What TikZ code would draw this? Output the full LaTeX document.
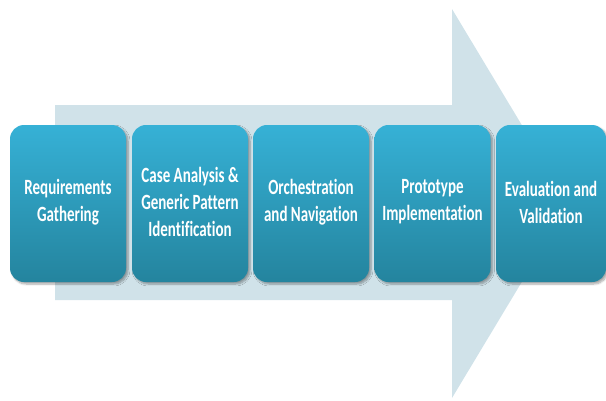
\documentclass[tikz,border=0pt]{standalone}
\usepackage{fontspec}
\setmainfont{Carlito}[Ligatures={NoCommon}]
\usetikzlibrary{shadows.blur}
\definecolor{arrowbg}{RGB}{208,226,233}
\definecolor{boxtop}{RGB}{54,177,214}
\definecolor{boxbot}{RGB}{36,132,158}
\tikzset{
  stepbox/.style={rounded corners=14pt, top color=boxtop, bottom color=boxbot, draw=none,
    minimum width=116pt, minimum height=157pt, inner sep=0pt,
    blur shadow={shadow xshift=2pt, shadow yshift=-2pt, shadow blur steps=6, shadow opacity=35}},
  steplabel/.style={text=white, font=\bfseries\fontsize{15}{18.6}\selectfont, align=center,
    inner sep=0pt, yscale=1.45, transform shape}
}
\begin{document}
\begin{tikzpicture}[x=1pt, y=-1pt]
\useasboundingbox (0,0) rectangle (606,400);
\fill[arrowbg] (55,105) -- (452,105) -- (452,9) -- (569,203.5) -- (452,398) -- (452,300) -- (55,300) -- cycle;
\node[stepbox] (b1) at (68,203.5) {};
\node[stepbox] (b2) at (190,203.5) {};
\node[stepbox] (b3) at (311,203.5) {};
\node[stepbox] (b4) at (432.5,203.5) {};
\node[stepbox, minimum width=110pt] (b5) at (551,203.5) {};
\node[steplabel] (t1) at ([yshift=1.5pt]b1.center) {Requirements\\Gathering};
\node[steplabel] (t2) at ([yshift=1.5pt]b2.center) {Case Analysis \&\\Generic Pattern\\Identification};
\node[steplabel] (t3) at ([yshift=1.5pt]b3.center) {Orchestration\\and Navigation};
\node[steplabel] (t4) at ([yshift=1.5pt]b4.center) {Prototype\\Implementation};
\node[steplabel] (t5) at ([yshift=1.5pt]b5.center) {Evaluation and\\Validation};
\end{tikzpicture}
\end{document}
